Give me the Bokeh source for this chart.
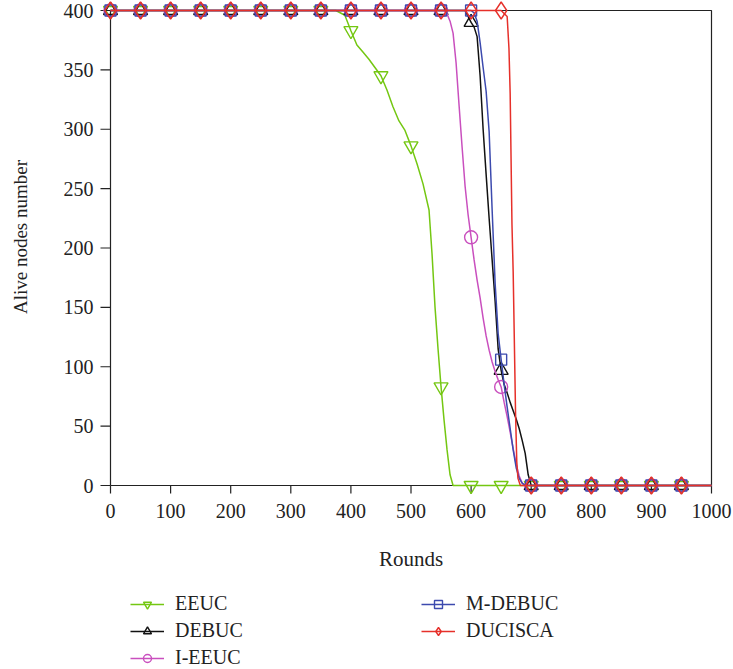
import math
from bokeh.plotting import figure
from bokeh.models import Range1d, Legend, LegendItem
from bokeh.core.properties import value
from bokeh.embed import file_html
from bokeh.resources import INLINE

# ---------------- data ----------------
X_TICKS = [0, 100, 200, 300, 400, 500, 600, 700, 800, 900, 1000]
Y_TICKS = [0, 50, 100, 150, 200, 250, 300, 350, 400]
X_LABELS = [str(t) for t in X_TICKS]
Y_LABELS = [str(t) for t in Y_TICKS]
X_MAX = 1000
Y_MAX = 400
MARK_STEP = 50
MARK_LAST = 950
X_TITLE = "Rounds"
Y_TITLE = "Alive nodes number"

eeuc_rounds = [0, 50, 100, 150, 200, 250, 300, 350, 375, 390, 400, 410, 420, 430, 440,
               450, 460, 470, 480, 490, 500, 510, 520, 530, 535, 540, 545, 550, 555,
               560, 565, 570, 600, 650, 700, 750, 800, 850, 900, 950, 1000]
eeuc_alive = [400, 400, 400, 400, 400, 400, 400, 400, 400, 396, 383, 371, 365, 359, 352,
              345, 333, 319, 307, 299, 286, 271, 254, 232, 195, 150, 115, 83, 55,
              30, 9, 0, 0, 0, 0, 0, 0, 0, 0, 0, 0]

debuc_rounds = [0, 50, 100, 150, 200, 250, 300, 350, 400, 450, 500, 550, 590, 600, 605,
                610, 615, 620, 625, 630, 635, 640, 645, 650, 655, 660, 665, 670, 675,
                680, 685, 690, 695, 700, 750, 800, 850, 900, 950, 1000]
debuc_alive = [400, 400, 400, 400, 400, 400, 400, 400, 400, 400, 400, 400, 400, 390, 386,
               378, 345, 300, 262, 225, 190, 155, 115, 97, 85, 78, 70, 63, 56,
               48, 38, 27, 9, 0, 0, 0, 0, 0, 0, 0]

ieeuc_rounds = [0, 50, 100, 150, 200, 250, 300, 350, 400, 450, 500, 550, 555, 560, 565,
                570, 575, 580, 585, 590, 595, 600, 605, 610, 615, 620, 625, 630, 635,
                640, 645, 650, 655, 660, 665, 670, 675, 680, 685, 690, 700, 750, 800,
                850, 900, 950, 1000]
ieeuc_alive = [400, 400, 400, 400, 400, 400, 400, 400, 400, 400, 400, 400, 400, 397, 391,
               381, 356, 320, 285, 252, 228, 209, 190, 173, 158, 141, 126, 114, 104,
               96, 89, 83, 70, 58, 45, 31, 18, 8, 2, 0, 0, 0, 0,
               0, 0, 0, 0]

mdebuc_rounds = [0, 50, 100, 150, 200, 250, 300, 350, 400, 450, 500, 550, 600, 605, 610,
                 615, 620, 625, 630, 635, 640, 645, 650, 655, 660, 665, 670, 675, 680,
                 685, 690, 700, 750, 800, 850, 900, 950, 1000]
mdebuc_alive = [400, 400, 400, 400, 400, 400, 400, 400, 400, 400, 400, 400, 400, 398, 391,
                373, 352, 332, 298, 232, 170, 128, 106, 85, 66, 48, 30, 15, 6,
                2, 0, 0, 0, 0, 0, 0, 0, 0]

ducisca_rounds = [0, 50, 100, 150, 200, 250, 300, 350, 400, 450, 500, 550, 600, 650, 660,
                  663, 665, 668, 670, 672, 674, 676, 678, 682, 700, 750, 800, 850, 900,
                  950, 1000]
ducisca_alive = [400, 400, 400, 400, 400, 400, 400, 400, 400, 400, 400, 400, 400, 400, 395,
                 368, 330, 220, 180, 120, 60, 20, 6, 0, 0, 0, 0, 0, 0,
                 0, 0]

series = [
    ("EEUC", eeuc_rounds, eeuc_alive, "#74c712", "inverted_triangle", 14),
    ("DEBUC", debuc_rounds, debuc_alive, "#111111", "triangle", 14),
    ("I-EEUC", ieeuc_rounds, ieeuc_alive, "#c94fbe", "circle", 13),
    ("M-DEBUC", mdebuc_rounds, mdebuc_alive, "#3c4aae", "square", 11),
    ("DUCISCA", ducisca_rounds, ducisca_alive, "#e6302a", "diamond", 17),
]

# ---------------- layout (pixels) ----------------
FONT = "Liberation Serif"
INK = "#222222"
W, H = 733, 669
X0_PX, Y0_PX = 110, 485        # where round 0 / 0 nodes sit in the figure
SX, SY = 0.601, 1.1875         # pixels per data unit

x_range = Range1d(-X0_PX / SX, (W - X0_PX) / SX)
y_range = Range1d((Y0_PX - H) / SY, Y0_PX / SY)

p = figure(width=W, height=H, output_backend="svg", toolbar_location=None,
           x_range=x_range, y_range=y_range, x_axis_type=None, y_axis_type=None,
           min_border=0)
p.outline_line_color = None
p.grid.visible = False
p.background_fill_color = "white"
p.border_fill_color = "white"

# axes lines and box
p.line([0, X_MAX], [0, 0], line_color=INK, line_width=1.2)
p.line([0, 0], [0, Y_MAX], line_color=INK, line_width=1.2)
p.line([0, X_MAX, X_MAX], [Y_MAX, Y_MAX, 0], line_color=INK, line_width=1.2)

# ticks (outside)
xt_len = 8 / SY
yt_len = 10 / SX
p.segment(x0=X_TICKS, y0=[0] * len(X_TICKS), x1=X_TICKS, y1=[-xt_len] * len(X_TICKS),
          line_color=INK, line_width=1.2)
p.segment(x0=[0] * len(Y_TICKS), y0=Y_TICKS, x1=[-yt_len] * len(Y_TICKS), y1=Y_TICKS,
          line_color=INK, line_width=1.2)

# tick labels
p.text(x=X_TICKS, y=[0] * len(X_TICKS), text=X_LABELS, y_offset=25,
       text_align="center", text_baseline="middle", text_font=value(FONT),
       text_font_size="20px", text_color=INK)
p.text(x=[0] * len(Y_TICKS), y=Y_TICKS, text=Y_LABELS, x_offset=-17,
       text_align="right", text_baseline="middle", text_font=value(FONT),
       text_font_size="20px", text_color=INK)

# axis titles
p.text(x=[X_MAX / 2], y=[0], text=[X_TITLE], y_offset=73,
       text_align="center", text_baseline="middle", text_font=value(FONT),
       text_font_size="21px", text_color=INK)
p.text(x=[0], y=[Y_MAX / 2], text=[Y_TITLE], x_offset=-90, y_offset=-11,
       angle=math.pi / 2, text_align="center", text_baseline="middle",
       text_font=value(FONT), text_font_size="19px", text_color=INK)

items = []
for name, rr, aa, col, mk, sz in series:
    ln = p.line(rr, aa, line_color=col, line_width=1.5)
    mr = [r for r in rr if r % MARK_STEP == 0 and r <= MARK_LAST]
    ma = [a for r, a in zip(rr, aa) if r % MARK_STEP == 0 and r <= MARK_LAST]
    sc = p.scatter(mr, ma, marker=mk, size=sz, fill_color=None,
                   line_color=col, line_width=1.4)
    items.append(LegendItem(label=name, renderers=[ln, sc]))

legend = Legend(items=items, nrows=3, orientation="vertical",
                location=(130, 0), margin=0, padding=0, spacing=4,
                glyph_width=34, glyph_height=20, label_standoff=11,
                label_width=242, label_height=20,
                label_text_font=FONT, label_text_font_size="20px",
                label_text_color=INK,
                border_line_color=None, background_fill_alpha=0)
p.add_layout(legend)

open("out.html", "w").write(file_html(p, INLINE))
